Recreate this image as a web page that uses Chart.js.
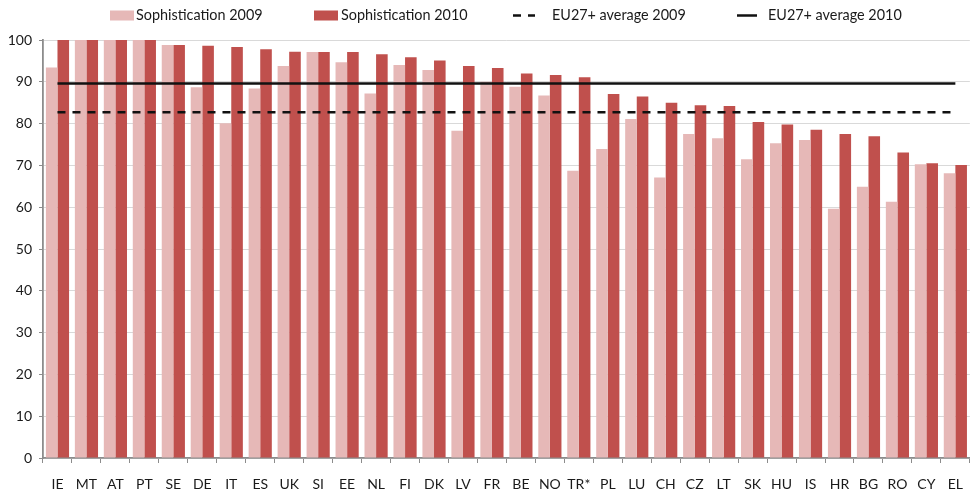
<!DOCTYPE html>
<html>
<head>
<meta charset="utf-8">
<script src="https://cdn.jsdelivr.net/npm/chart.js@4.4.1/dist/chart.umd.min.js"></script>
<style>
  html, body { margin: 0; padding: 0; background: #ffffff; }
  #wrap { width: 976px; height: 494px; }
</style>
</head>
<body>
<div id="wrap"><canvas id="chart" width="976" height="494"></canvas></div>
<script>
// Country codes, in ranking order
const countries = ['IE','MT','AT','PT','SE','DE','IT','ES','UK','SI','EE','NL','FI','DK','LV','FR',
                   'BE','NO','TR*','PL','LU','CH','CZ','LT','SK','HU','IS','HR','BG','RO','CY','EL'];

// Online sophistication scores (%)
const sophistication2009 = [93.4,100,100,100,98.8,88.7,80.1,88.4,93.8,97.1,94.7,87.2,94.0,92.8,78.3,90.0,
                            88.8,86.7,68.7,73.9,81.1,67.1,77.5,76.5,71.5,75.3,76.1,59.6,64.9,61.3,70.3,68.1];
const sophistication2010 = [100,100,100,100,98.8,98.6,98.3,97.8,97.2,97.1,97.1,96.6,95.9,95.1,93.8,93.3,
                            92.0,91.6,91.1,87.1,86.5,85.0,84.4,84.2,80.4,79.8,78.5,77.5,77.0,73.1,70.5,70.1];

// EU27+ averages
const euAverage2009 = 82.7;
const euAverage2010 = 89.6;

// Value axis
const yMin = 0, yMax = 100, yStep = 10;

const FONT = "Lato, 'Liberation Sans', sans-serif";
const PINK = '#e6b8b7';
const RED = '#c0504d';

// Legend across the top: key start, key width, text start
const legendSlots = [
  { keyX: 110, keyW: 24, textX: 136 },
  { keyX: 314, keyW: 24, textX: 341 },
  { keyX: 513, keyW: 22, textX: 552 },
  { keyX: 737, keyW: 20, textX: 768 }
];
const legendY = 15.5;

const topLegend = {
  id: 'topLegend',
  afterDraw(chart) {
    const ctx = chart.ctx;
    ctx.save();
    ctx.font = '14.4px ' + FONT;
    ctx.textBaseline = 'middle';
    ctx.textAlign = 'left';
    chart.data.datasets.forEach((ds, i) => {
      const slot = legendSlots[i];
      if (ds.type === 'line') {
        ctx.strokeStyle = ds.borderColor;
        ctx.lineWidth = 2.5;
        ctx.setLineDash(ds.borderDash || []);
        ctx.beginPath();
        ctx.moveTo(slot.keyX, legendY);
        ctx.lineTo(slot.keyX + slot.keyW, legendY);
        ctx.stroke();
        ctx.setLineDash([]);
      } else {
        ctx.fillStyle = ds.backgroundColor;
        ctx.fillRect(slot.keyX, legendY - 5, slot.keyW, 10);
      }
      ctx.fillStyle = '#1a1a1a';
      ctx.fillText(ds.label, slot.textX, legendY);
    });
    ctx.restore();
  }
};

new Chart(document.getElementById('chart'), {
  type: 'bar',
  data: {
    labels: countries,
    datasets: [
      {
        label: 'Sophistication 2009',
        data: sophistication2009,
        backgroundColor: PINK,
        categoryPercentage: 0.8,
        barPercentage: 1.0,
        order: 2
      },
      {
        label: 'Sophistication 2010',
        data: sophistication2010,
        backgroundColor: RED,
        categoryPercentage: 0.8,
        barPercentage: 1.0,
        order: 2
      },
      {
        type: 'line',
        label: 'EU27+ average 2009',
        data: countries.map(() => euAverage2009),
        borderColor: '#111111',
        borderWidth: 2.5,
        borderDash: [8, 7],
        pointRadius: 0,
        fill: false,
        order: 0
      },
      {
        type: 'line',
        label: 'EU27+ average 2010',
        data: countries.map(() => euAverage2010),
        borderColor: '#111111',
        borderWidth: 2.5,
        pointRadius: 0,
        fill: false,
        order: 0
      }
    ]
  },
  options: {
    responsive: false,
    devicePixelRatio: 1,
    animation: false,
    layout: { padding: { top: 40, left: 0, right: 0, bottom: 0 } },
    plugins: {
      legend: { display: false },
      tooltip: { enabled: false }
    },
    scales: {
      x: {
        offset: true,
        afterFit(scale) { scale.height = 36; },
        grid: {
          offset: true,
          drawOnChartArea: false,
          drawTicks: true,
          tickLength: 5,
          color: '#8c8c8c',
          lineWidth: 1
        },
        border: { color: '#8c8c8c', width: 1.8 },
        ticks: {
          padding: 13,
          maxRotation: 0,
          autoSkip: false,
          color: '#1a1a1a',
          font: { family: FONT, size: 14 }
        }
      },
      y: {
        min: yMin,
        max: yMax,
        afterFit(scale) { scale.width = 43; },
        grid: {
          color: '#d9d9d9',
          lineWidth: 1,
          tickLength: 4,
          tickColor: '#8c8c8c'
        },
        border: { color: '#8c8c8c', width: 1.8 },
        ticks: {
          stepSize: yStep,
          padding: 7,
          color: '#1a1a1a',
          font: { family: FONT, size: 14 }
        }
      }
    }
  },
  plugins: [topLegend]
});
</script>
</body>
</html>
